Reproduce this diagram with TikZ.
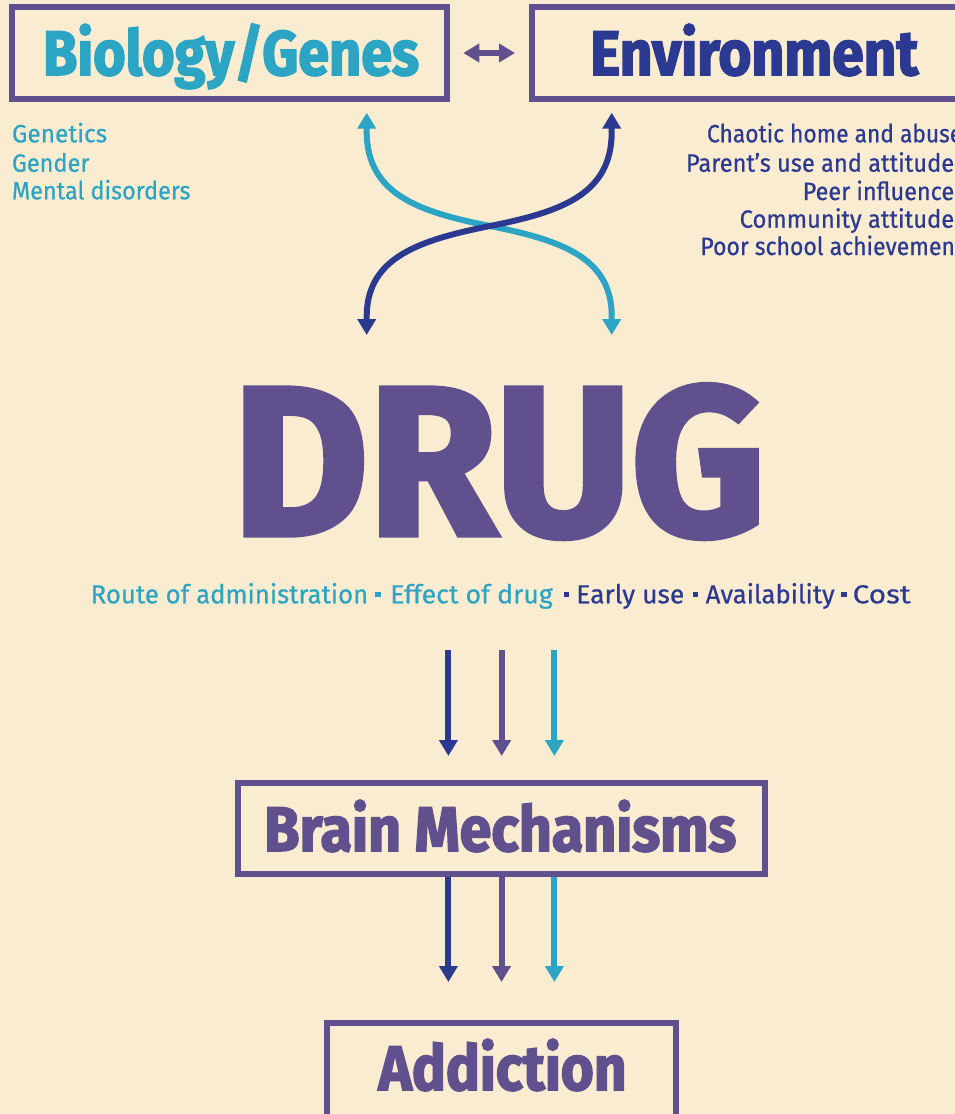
\documentclass[tikz,border=0pt]{standalone}
\usepackage{fontspec}
\setmainfont{Fira Sans}[UprightFeatures={FakeBold=0.6},BoldFeatures={FakeBold=2.5}]
\usepackage{graphicx}
\usetikzlibrary{arrows.meta}
\definecolor{bgc}{RGB}{250,236,208}
\definecolor{cpur}{RGB}{96,80,142}
\definecolor{cnav}{RGB}{43,57,144}
\definecolor{ccya}{RGB}{44,165,196}
\newlength\natw
\newcommand{\fitw}[2]{\settowidth{\natw}{#2}\pgfmathsetmacro\fitr{#1/\natw}\addfontfeatures{FakeStretch=\fitr}#2}
\newcommand{\sqb}[1]{\textcolor{#1}{\rule[6.05pt]{5.5pt}{5.5pt}}}
\tikzset{
  frame/.style={draw=cpur, line width=6pt, inner sep=0pt},
  biglabel/.style={inner sep=0pt, anchor=base, font=\fontsize{63}{63}\selectfont\bfseries},
  smalltext/.style={inner sep=0pt, anchor=base west, font=\fontsize{25}{25}\selectfont},
  rowtext/.style={inner sep=0pt, anchor=base west, font=\fontsize{26}{26}\selectfont},
  arr/.style={line width=6pt, -{Triangle[length=16pt,width=18pt]}},
  dblarr/.style={line width=6pt, {Triangle[length=16pt,width=18pt]}-{Triangle[length=16pt,width=18pt]}},
}
\begin{document}
\begin{tikzpicture}[x=1pt,y=-1pt]
\useasboundingbox (0,0) rectangle (955,1114);
\clip (0,0) rectangle (955,1114);
\fill[bgc] (0,0) rectangle (955,1114);

% boxes
\node[frame, minimum width=435pt, minimum height=91.4pt] (bio) at (229.5,53) {};
\node[frame, minimum width=443pt, minimum height=91.5pt] (env) at (753.5,53) {};
\node[frame, minimum width=527pt, minimum height=90.7pt] (brain) at (501.5,828.65) {};
\node[frame, minimum width=349.3pt, minimum height=97pt] (addict) at (501.35,1071.5) {};

% box labels
\node[biglabel, text=ccya] (bioT) at (231,75) {\fitw{376pt}{Biology/Genes}};
\node[biglabel, text=cnav] (envT) at (754.3,75) {\fitw{328pt}{Environment}};
\node[biglabel, text=cpur] (brainT) at (500.2,851) {\fitw{472pt}{Brain Mechanisms}};
\node[biglabel, text=cpur] (addictT) at (502.5,1090) {\fitw{248pt}{Addiction}};

% DRUG
\node[inner sep=0pt, anchor=base, text=cpur, font=\fontsize{212}{212}\selectfont\bfseries] (drug) at (499,535) {\fitw{533pt}{DRUG}};

% double arrow between boxes
\draw[dblarr, cpur] ([xshift=13.3pt]bio.east) -- ([xshift=-14pt]env.west);

% left list
\node[smalltext, text=ccya] (l1) at (11.8,142.3) {\fitw{95.2pt}{Genetics}};
\node[smalltext, text=ccya] (l2) at (11.8,171.7) {\fitw{77.5pt}{Gender}};
\node[smalltext, text=ccya] (l3) at (11.8,199.3) {\fitw{178.5pt}{Mental disorders}};

% right list
\node[smalltext, text=cnav] (r1) at (706.8,142.3) {\fitw{255.2pt}{Chaotic home and abuse}};
\node[smalltext, text=cnav] (r2) at (685.8,171.7) {\fitw{268.2pt}{Parent’s use and attitude}};
\node[smalltext, text=cnav] (r3) at (802.5,200) {\fitw{151.5pt}{Peer influence}};
\node[smalltext, text=cnav] (r4) at (739.5,227.7) {\fitw{214.5pt}{Community attitude}};
\node[smalltext, text=cnav] (r5) at (700.2,255) {\fitw{262.8pt}{Poor school achievement}};

% crossing arrows
\coordinate (cT) at (366.7,112.7);
\coordinate (cB) at (611.7,335);
\coordinate (nT) at (611.7,112.7);
\coordinate (nB) at (366.7,335);
\coordinate (mid) at (490,226);
\draw[dblarr, ccya] (cT) -- (366.7,132) .. controls (367,195) and (420,212) .. (mid)
  .. controls (560,240) and (611.7,257) .. (611.7,316) -- (cB);
\draw[dblarr, cnav] (nB) -- (366.7,316) .. controls (367,257) and (420,240) .. (mid)
  .. controls (560,212) and (611.7,195) .. (611.7,132) -- (nT);

% row of factors (one line)
\node[rowtext] (factors) at (90.5,603.3) {%
{\color{ccya}\fitw{277.5pt}{Route of administration}}%
\hspace*{6.85pt}\sqb{ccya}\hspace*{9.75pt}%
{\color{ccya}\fitw{162.5pt}{Effect of drug}}%
\hspace*{11.15pt}\sqb{cnav}\hspace*{6.85pt}%
{\color{cnav}\fitw{108pt}{Early use}}%
\hspace*{8.35pt}\sqb{cnav}\hspace*{7.55pt}%
{\color{cnav}\fitw{129pt}{Availability}}%
\hspace*{6.55pt}\sqb{cnav}\hspace*{5.95pt}%
{\color{cnav}\fitw{58pt}{Cost}}%
};

% arrows down to brain
\coordinate (u1s) at (448.4,650); \coordinate (u1e) at (448.4,756);
\coordinate (u2s) at (501.7,650); \coordinate (u2e) at (501.7,756);
\coordinate (u3s) at (554.4,650); \coordinate (u3e) at (554.4,756);
\draw[arr, cnav] (u1s) -- (u1e);
\draw[arr, cpur] (u2s) -- (u2e);
\draw[arr, ccya] (u3s) -- (u3e);

% arrows down from brain
\coordinate (d1e) at (448.4,982);
\coordinate (d2e) at (501.5,982);
\coordinate (d3e) at (554.4,982);
\draw[arr, cnav] (brain.south -| d1e) -- (d1e);
\draw[arr, cpur] (brain.south -| d2e) -- (d2e);
\draw[arr, ccya] (brain.south -| d3e) -- (d3e);
\end{tikzpicture}
\end{document}
